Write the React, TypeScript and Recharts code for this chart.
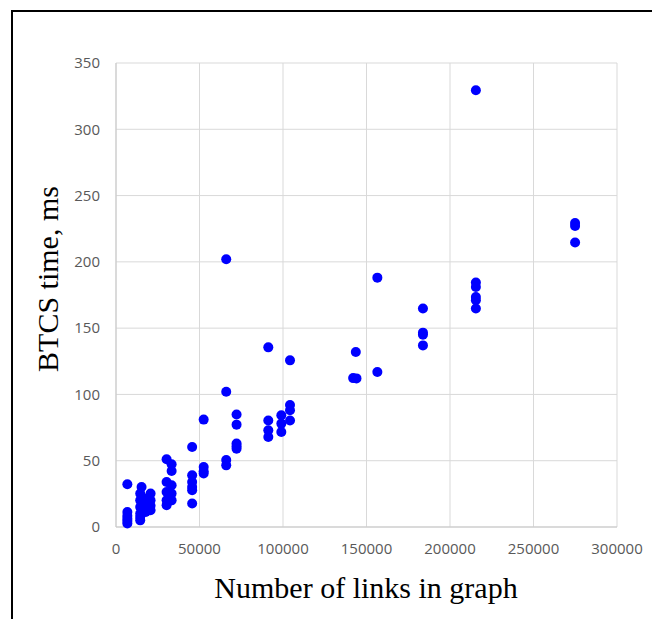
import React from 'react';
import { ScatterChart, Scatter, XAxis, YAxis, CartesianGrid } from 'recharts';

// Number of links in each test graph (x) and the measured BTCS time in ms (y)
const links = [
  6800, 6800, 6800, 6800, 6800, 6800,
  15300, 14500, 14500, 14500, 14500, 14500, 14500,
  17800, 17800, 17800, 17800,
  20700, 20700, 20700, 20700,
  30300, 30300, 30300, 30300, 30300,
  33300, 33300, 33300, 33300, 33300,
  45600, 45600, 45600, 45600, 45600, 45600,
  52500, 52500, 52500, 52500,
  66000, 66000, 66000, 66000,
  72200, 72200, 72200, 72200, 72200,
  91200, 91200, 91200, 91200,
  99000, 99000, 99000,
  104200, 104200, 104200, 104200,
  142000, 144000, 143600,
  156500, 156500,
  183800, 183800, 183800, 183800,
  215500, 215500, 215500, 215500, 215500, 215500,
  274900, 274900, 274900,
];

const btcsTime = [
  32.2, 11.3, 8.5, 6.3, 4.5, 2.6,
  30.2, 25.2, 20.1, 15.1, 10.1, 7.5, 5,
  21.4, 16.4, 13.9, 11.3,
  25.2, 20.1, 16, 12.6,
  51.1, 34, 26.4, 20.1, 16.4,
  47.3, 42.3, 31.5, 25.2, 20.1,
  60.3, 39, 34, 30.2, 27.7, 17.7,
  81, 45.3, 42, 40.3,
  201.9, 102, 50.5, 46.5,
  84.8, 77.2, 63, 61, 59,
  135.5, 80.4, 72.9, 67.9,
  84.3, 78, 71.7,
  125.7, 92, 88, 80.4,
  112.3, 112.1, 132,
  188.1, 116.9,
  164.8, 146.6, 145, 137,
  329.4, 184.4, 181.1, 173.4, 171, 164.8,
  229.3, 227, 214.6,
];

const xTicks = [0, 50000, 100000, 150000, 200000, 250000, 300000];
const yTicks = [0, 50, 100, 150, 200, 250, 300, 350];

const points = links.map((x, i) => ({ x, y: btcsTime[i] }));

const tickStyle = { fontSize: 15, fill: '#595959', fontFamily: '"Open Sans", sans-serif' };

export default function App() {
  return (
    <div style={{ position: 'fixed', left: 0, top: 0, width: 652, height: 619, background: '#fff' }}>
      <ScatterChart width={652} height={619} margin={{ top: 63, right: 35, bottom: 0, left: 0 }}>
        <CartesianGrid stroke="#d9d9d9" strokeWidth={1} />
        <XAxis
          type="number"
          dataKey="x"
          domain={[0, 300000]}
          ticks={xTicks}
          interval={0}
          height={92}
          tick={tickStyle}
          tickLine={false}
          tickSize={0}
          tickMargin={16}
          axisLine={{ stroke: '#c8c8c8' }}
        />
        <YAxis
          type="number"
          dataKey="y"
          domain={[0, 350]}
          ticks={yTicks}
          interval={0}
          width={116}
          tick={tickStyle}
          tickLine={false}
          tickSize={0}
          tickMargin={16}
          axisLine={{ stroke: '#c8c8c8' }}
        />
        <Scatter
          data={points}
          isAnimationActive={false}
          shape={(p: any) => <circle cx={p.cx} cy={p.cy} r={5} fill="#0000FF" />}
        />
      </ScatterChart>

      {/* axis titles, Times-like serif as in the figure */}
      <svg width={652} height={619} style={{ position: 'absolute', left: 0, top: 0, pointerEvents: 'none' }}>
        <text
          x={366}
          y={598}
          textAnchor="middle"
          fontFamily='"Liberation Serif", serif'
          fontSize={30}
          fill="#000"
        >
          Number of links in graph
        </text>
        <text
          x={279}
          y={58}
          textAnchor="middle"
          fontFamily='"Liberation Serif", serif'
          fontSize={30}
          fill="#000"
          transform="rotate(-90 0 0) translate(-558 0)"
        >
          BTCS time, ms
        </text>
      </svg>

      {/* frame around the figure */}
      <div
        style={{
          position: 'absolute',
          left: 11,
          top: 10,
          right: 0,
          bottom: 0,
          borderLeft: '2px solid #000',
          borderTop: '2px solid #000',
        }}
      />
    </div>
  );
}
